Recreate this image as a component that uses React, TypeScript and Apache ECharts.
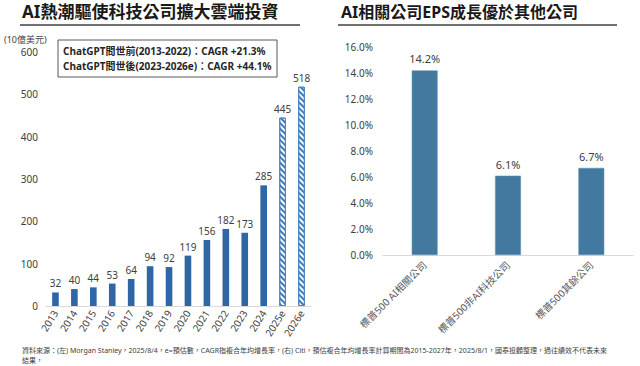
import React, { useEffect, useRef } from "react";
import * as echarts from "echarts";

const leftCategories = ["2013","2014","2015","2016","2017","2018","2019","2020","2021","2022","2023","2024","2025e","2026e"];
const leftValues = [32, 40, 44, 53, 64, 94, 92, 119, 156, 182, 173, 285, 445, 518];
const forecastCategories = ["2025e", "2026e"];
const rightCategories = ["標普500 AI相關公司", "標普500非AI科技公司", "標普500其餘公司"];
const rightValues = [14.2, 6.1, 6.7];

const leftTitle = "AI熱潮驅使科技公司擴大雲端投資";
const rightTitle = "AI相關公司EPS成長優於其他公司";
const leftUnit = "(10億美元)";
const noteLines = ["ChatGPT問世前(2013-2022)：CAGR +21.3%", "ChatGPT問世後(2023-2026e)：CAGR +44.1%"];
const footLines = [
  "資料來源：(左) Morgan Stanley，2025/8/4，e=預估數，CAGR指複合年均增長率，(右) Citi，預估複合年均增長率計算期間為2015-2027年，2025/8/1，國泰投顧整理，過往績效不代表未來",
  "結果，",
];

const FONT = "'Noto Sans', 'Noto Sans CJK TC', sans-serif";
const LEFT_BLUE = "#2F66A6";
const RIGHT_BLUE = "#43799F";

export default function App() {
  const ref = useRef<HTMLDivElement>(null);
  useEffect(() => {
    if (!ref.current) return;
    const chart = echarts.init(ref.current, undefined, { renderer: "svg" });
    const leftData = leftValues.map((v, i) => {
      const isF = forecastCategories.includes(leftCategories[i]);
      return isF
        ? {
            value: v,
            itemStyle: {
              color: "#ffffff",
              borderColor: "#4A86C0",
              borderWidth: 1,
              decal: {
                symbol: "rect",
                symbolSize: 1,
                dashArrayX: [1, 0],
                dashArrayY: [2, 2],
                rotation: Math.PI / 4,
                color: "#3F7BB8",
              },
            },
          }
        : { value: v };
    });
    chart.setOption({
      animation: false,
      textStyle: { fontFamily: FONT },
      grid: [
        { left: 46, width: 265, top: 52, height: 254 },
        { left: 383, width: 250, top: 47, height: 208 },
      ],
      xAxis: [
        {
          gridIndex: 0,
          type: "category",
          data: leftCategories,
          axisLine: { lineStyle: { color: "#D9D9D9" } },
          axisTick: { show: false },
          axisLabel: { rotate: 58, fontSize: 10, color: "#404040", margin: 5, fontFamily: FONT },
        },
        {
          gridIndex: 1,
          type: "category",
          data: rightCategories,
          axisLine: { lineStyle: { color: "#D9D9D9" } },
          axisTick: { show: false },
          axisLabel: { rotate: 45, fontSize: 10, color: "#595959", margin: 8, fontFamily: FONT },
        },
      ],
      yAxis: [
        {
          gridIndex: 0,
          type: "value",
          min: 0,
          max: 600,
          interval: 100,
          splitLine: { show: false },
          axisLine: { show: false },
          axisTick: { show: false },
          axisLabel: { fontSize: 10, color: "#404040", margin: 8, fontFamily: FONT },
        },
        {
          gridIndex: 1,
          type: "value",
          min: 0,
          max: 16,
          interval: 2,
          splitLine: { show: false },
          axisLine: { show: false },
          axisTick: { show: false },
          axisLabel: {
            fontSize: 10,
            color: "#404040",
            margin: 10,
            fontFamily: FONT,
            formatter: (v: number) => v.toFixed(1) + "%",
          },
        },
      ],
      series: [
        {
          type: "bar",
          xAxisIndex: 0,
          yAxisIndex: 0,
          data: leftData,
          barWidth: "35%",
          itemStyle: { color: LEFT_BLUE },
          label: { show: true, position: "top", fontSize: 10, color: "#404040", distance: 4, fontFamily: FONT },
        },
        {
          type: "bar",
          xAxisIndex: 1,
          yAxisIndex: 1,
          data: rightValues,
          barWidth: "31%",
          itemStyle: { color: RIGHT_BLUE, borderColor: "#5C8FB3", borderWidth: 0.5 },
          label: {
            show: true,
            position: "top",
            fontSize: 11,
            color: "#404040",
            distance: 6,
            fontFamily: FONT,
            formatter: (p: any) => p.value.toFixed(1) + "%",
          },
        },
      ],
      graphic: [
        { type: "text", left: 22, top: 3, style: { text: leftTitle, font: `bold 17px ${FONT}`, fill: "#1a1a1a" } },
        { type: "line", shape: { x1: 20, y1: 25, x2: 300, y2: 25 }, style: { stroke: "#404040", lineWidth: 1.5 } },
        { type: "text", left: 341, top: 4, style: { text: rightTitle, font: `bold 16px ${FONT}`, fill: "#1a1a1a" } },
        { type: "line", shape: { x1: 338, y1: 25, x2: 617, y2: 25 }, style: { stroke: "#404040", lineWidth: 1.5 } },
        { type: "text", left: 4, top: 35, style: { text: leftUnit, font: `9px ${FONT}`, fill: "#404040" } },
        { type: "rect", shape: { x: 58, y: 40, width: 219, height: 37 }, style: { fill: "#fff", stroke: "#595959", lineWidth: 1 } },
        { type: "text", left: 63, top: 46, style: { text: noteLines[0], font: `bold 10px ${FONT}`, fill: "#262626" } },
        { type: "text", left: 63, top: 61, style: { text: noteLines[1], font: `bold 10px ${FONT}`, fill: "#262626" } },
        { type: "text", left: 22, top: 347, style: { text: footLines[0], font: `7px ${FONT}`, fill: "#404040" } },
        { type: "text", left: 22, top: 357, style: { text: footLines[1], font: `7px ${FONT}`, fill: "#404040" } },
      ],
    });
    return () => chart.dispose();
  }, []);
  return <div ref={ref} style={{ width: 640, height: 366, position: "absolute", left: 0, top: 0, background: "#fff" }} />;
}
